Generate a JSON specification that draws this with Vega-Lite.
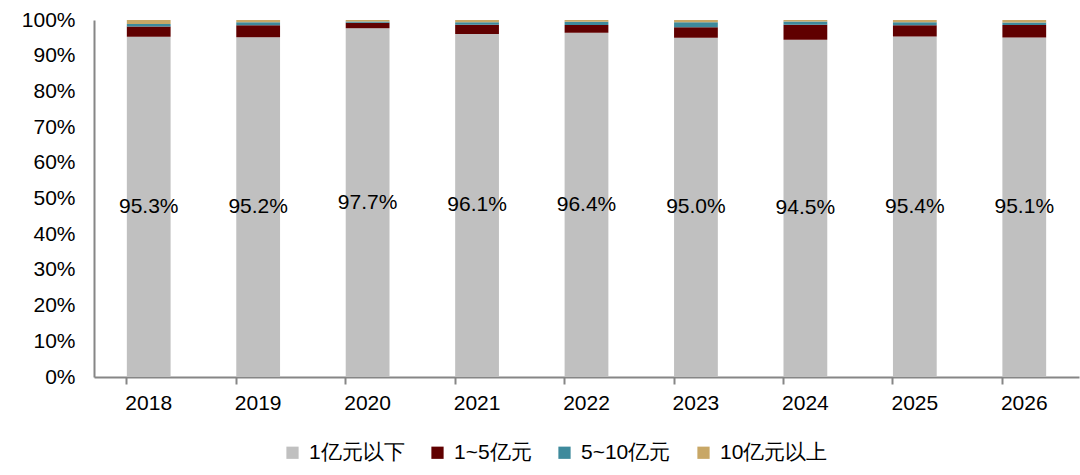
{
  "$schema": "https://vega.github.io/schema/vega-lite/v6.json",
  "width": 985,
  "height": 357,
  "autosize": {"type": "none"},
  "padding": {"left": 94, "top": 20, "right": 1, "bottom": 98},
  "background": "white",
  "config": {
    "view": {"stroke": null},
    "font": "Liberation Sans",
    "axis": {"grid": false, "labelFont": "Liberation Sans", "labelColor": "#000000", "labelFontSize": 21, "domainColor": "#868686", "domainWidth": 2, "tickColor": "#868686", "tickWidth": 2}
  },
  "data": {
    "values": [
      {"year": "2018", "cat": "1亿元以下", "v": 0.953},
      {"year": "2018", "cat": "1~5亿元", "v": 0.029},
      {"year": "2018", "cat": "5~10亿元", "v": 0.007},
      {"year": "2018", "cat": "10亿元以上", "v": 0.011},
      {"year": "2019", "cat": "1亿元以下", "v": 0.952},
      {"year": "2019", "cat": "1~5亿元", "v": 0.033},
      {"year": "2019", "cat": "5~10亿元", "v": 0.009},
      {"year": "2019", "cat": "10亿元以上", "v": 0.006},
      {"year": "2020", "cat": "1亿元以下", "v": 0.977},
      {"year": "2020", "cat": "1~5亿元", "v": 0.015},
      {"year": "2020", "cat": "5~10亿元", "v": 0.004},
      {"year": "2020", "cat": "10亿元以上", "v": 0.004},
      {"year": "2021", "cat": "1亿元以下", "v": 0.961},
      {"year": "2021", "cat": "1~5亿元", "v": 0.026},
      {"year": "2021", "cat": "5~10亿元", "v": 0.007},
      {"year": "2021", "cat": "10亿元以上", "v": 0.006},
      {"year": "2022", "cat": "1亿元以下", "v": 0.964},
      {"year": "2022", "cat": "1~5亿元", "v": 0.022},
      {"year": "2022", "cat": "5~10亿元", "v": 0.009},
      {"year": "2022", "cat": "10亿元以上", "v": 0.005},
      {"year": "2023", "cat": "1亿元以下", "v": 0.950},
      {"year": "2023", "cat": "1~5亿元", "v": 0.030},
      {"year": "2023", "cat": "5~10亿元", "v": 0.014},
      {"year": "2023", "cat": "10亿元以上", "v": 0.006},
      {"year": "2024", "cat": "1亿元以下", "v": 0.945},
      {"year": "2024", "cat": "1~5亿元", "v": 0.042},
      {"year": "2024", "cat": "5~10亿元", "v": 0.009},
      {"year": "2024", "cat": "10亿元以上", "v": 0.004},
      {"year": "2025", "cat": "1亿元以下", "v": 0.954},
      {"year": "2025", "cat": "1~5亿元", "v": 0.031},
      {"year": "2025", "cat": "5~10亿元", "v": 0.009},
      {"year": "2025", "cat": "10亿元以上", "v": 0.006},
      {"year": "2026", "cat": "1亿元以下", "v": 0.951},
      {"year": "2026", "cat": "1~5亿元", "v": 0.035},
      {"year": "2026", "cat": "5~10亿元", "v": 0.007},
      {"year": "2026", "cat": "10亿元以上", "v": 0.007}
    ]
  },
  "encoding": {
    "x": {
      "field": "year",
      "type": "nominal",
      "title": null,
      "scale": {"paddingInner": 0.6, "paddingOuter": 0.3},
      "axis": {"labelAngle": 0, "tickSize": 7, "labelPadding": 8, "bandPosition": 0, "ticks": true}
    }
  },
  "layer": [
    {
      "mark": {"type": "bar"},
      "encoding": {
        "y": {
          "field": "v",
          "type": "quantitative",
          "stack": "zero",
          "title": null,
          "scale": {"domain": [0, 1], "nice": false},
          "axis": {"format": ".0%", "values": [0, 0.1, 0.2, 0.3, 0.4, 0.5, 0.6, 0.7, 0.8, 0.9, 1], "ticks": false, "labelPadding": 19}
        },
        "color": {
          "field": "cat",
          "type": "nominal",
          "sort": ["1亿元以下", "1~5亿元", "5~10亿元", "10亿元以上"],
          "scale": {
            "domain": ["1亿元以下", "1~5亿元", "5~10亿元", "10亿元以上"],
            "range": ["#C0C0C0", "#600000", "#3E8A9C", "#C8A766"]
          },
          "legend": {
            "title": null,
            "orient": "none",
            "direction": "horizontal",
            "legendX": 188,
            "legendY": 422,
            "symbolType": "square",
            "symbolSize": 150,
            "symbolStrokeWidth": 0,
            "labelFont": "Liberation Sans",
            "labelFontSize": 21,
            "labelColor": "#000000",
            "labelOffset": 6,
            "columnPadding": 22
          }
        },
        "order": {"field": "ordinal", "type": "quantitative"}
      }
    },
    {
      "transform": [{"filter": "datum.cat == '1亿元以下'"}],
      "mark": {"type": "text", "fontSize": 21, "color": "#000000", "baseline": "middle", "font": "Liberation Sans"},
      "encoding": {
        "y": {
          "field": "v",
          "type": "quantitative",
          "scale": {"domain": [0, 2], "nice": false},
          "axis": null
        },
        "text": {"field": "v", "type": "quantitative", "format": ".1%"}
      }
    }
  ],
  "resolve": {"scale": {"y": "independent"}}
}
